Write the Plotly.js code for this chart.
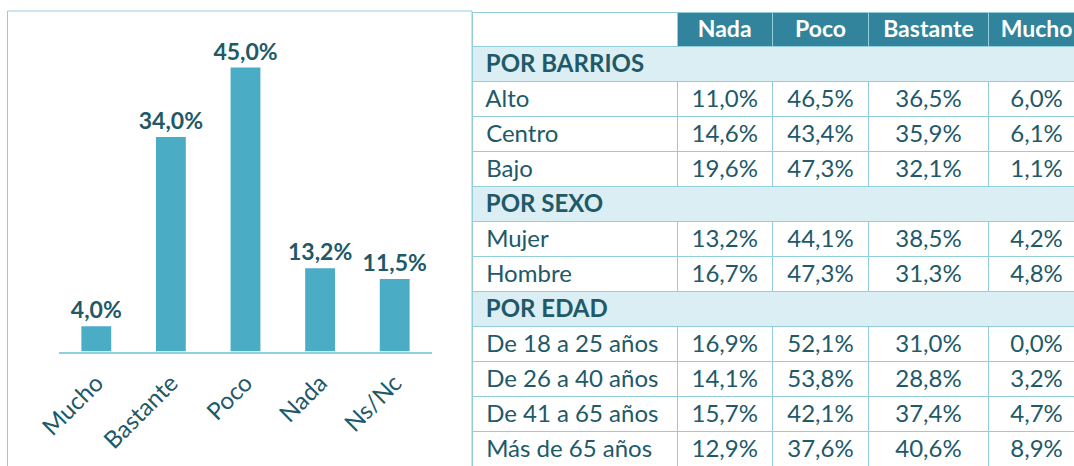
<!DOCTYPE html>
<html>
<head>
<meta charset="utf-8">
<script src="https://cdn.plot.ly/plotly-3.0.1.min.js"></script>
<style>
  html, body { margin: 0; padding: 0; overflow: hidden; background: #ffffff; }
  #chart { width: 1090px; height: 480px; }
</style>
</head>
<body>
<div id="chart"></div>
<script>
// ---- Bar chart data ----
const barCategories = ['Mucho', 'Bastante', 'Poco', 'Nada', 'Ns/Nc'];
const barValues = [4.0, 34.0, 45.0, 13.2, 11.5];

// ---- Table data ----
const tableColumns = ['Nada', 'Poco', 'Bastante', 'Mucho'];
const groupTitles = ['POR BARRIOS', 'POR SEXO', 'POR EDAD'];
const rowLabels = ['Alto', 'Centro', 'Bajo', 'Mujer', 'Hombre',
  'De 18 a 25 años', 'De 26 a 40 años', 'De 41 a 65 años', 'Más de 65 años'];
const rowGroup = [0, 0, 0, 1, 1, 2, 2, 2, 2];
const nadaValues = [11.0, 14.6, 19.6, 13.2, 16.7, 16.9, 14.1, 15.7, 12.9];
const pocoValues = [46.5, 43.4, 47.3, 44.1, 47.3, 52.1, 53.8, 42.1, 37.6];
const bastanteValues = [36.5, 35.9, 32.1, 38.5, 31.3, 31.0, 28.8, 37.4, 40.6];
const muchoValues = [6.0, 6.1, 1.1, 4.2, 4.8, 0.0, 3.2, 4.7, 8.9];

// ---- Styling ----
const W = 1090, H = 480;
const DARK = '#215968';
const BAR = '#4bacc6';
const HEAD = '#31849b';
const SECTION = '#daeef3';
const BORDER = '#92cddc';
const NONE = 'rgba(0,0,0,0)';
const FONT = 'Lato, "Open Sans", sans-serif';

const fmt = v => v.toFixed(1).replace('.', ',') + '%';
// keep multi-word labels on a single line (no table wrapping)
const keepTogether = s => s.replace(/ /g, '\u00a0');

// Build table rows (group title rows + data rows)
const valueCols = [nadaValues, pocoValues, bastanteValues, muchoValues];
const col0 = [], cols = [[], [], [], []], sectionText = [], isSection = [];
let lastGroup = -1;
rowLabels.forEach((lab, i) => {
  if (rowGroup[i] !== lastGroup) {
    lastGroup = rowGroup[i];
    col0.push('');
    cols.forEach(c => c.push(''));
    sectionText.push(keepTogether(groupTitles[lastGroup]));
    isSection.push(true);
  }
  col0.push(keepTogether(lab));
  cols.forEach((c, j) => c.push(fmt(valueCols[j][i])));
  sectionText.push('');
  isSection.push(false);
});
const nCols = 5;
const fillCells = [], lineColorCells = [];
for (let j = 0; j < nCols; j++) {
  fillCells.push(isSection.map(s => s ? SECTION : '#ffffff'));
  lineColorCells.push(isSection.map(s => s ? SECTION : BORDER));
}

const px = x => x / W;
const py = y => (H - y) / H;
const tableDomain = { x: [px(472), px(1085.3)], y: [0, py(12)] };

const barTrace = {
  type: 'bar',
  x: barCategories,
  y: barValues,
  width: 0.4,
  marker: { color: BAR, line: { width: 0 } },
  text: barValues.map(fmt),
  textposition: 'outside',
  constraintext: 'none',
  cliponaxis: false,
  textfont: { family: FONT, size: 23, color: DARK, weight: 'bold' },
  hoverinfo: 'skip',
  xaxis: 'x', yaxis: 'y'
};

const tableTrace = {
  type: 'table',
  domain: tableDomain,
  columnwidth: [205.3, 95, 96.7, 119.3, 97],
  header: {
    values: [''].concat(tableColumns),
    height: 34,
    align: 'center',
    fill: { color: ['#ffffff', HEAD, HEAD, HEAD, HEAD] },
    line: { color: BORDER, width: 1 },
    font: { family: FONT, size: 23, color: '#ffffff', weight: 'bold' }
  },
  cells: {
    values: [col0].concat(cols),
    height: 35,
    align: ['left', 'center', 'center', 'center', 'center'],
    prefix: ['\u00a0', '', '', '', ''],
    fill: { color: fillCells },
    line: { color: lineColorCells, width: 1 },
    font: { family: FONT, size: 24, color: DARK }
  }
};

// Full-width group title rows, drawn over the main table
const sectionTrace = {
  type: 'table',
  domain: tableDomain,
  columnwidth: [1],
  header: {
    values: [''],
    height: 34,
    fill: { color: NONE },
    line: { color: NONE, width: 0 },
    font: { family: FONT, size: 23, color: NONE }
  },
  cells: {
    values: [sectionText],
    height: 35,
    align: 'left',
    prefix: '\u00a0',
    fill: { color: [isSection.map(s => s ? SECTION : NONE)] },
    line: { color: [isSection.map(s => s ? BORDER : NONE)],
            width: [isSection.map(s => s ? 1 : 0)] },
    font: { family: FONT, size: 24, color: DARK, weight: 'bold' }
  }
};

const layout = {
  width: W, height: H,
  margin: { l: 0, r: 0, t: 0, b: 0 },
  paper_bgcolor: '#ffffff',
  plot_bgcolor: '#ffffff',
  showlegend: false,
  xaxis: {
    domain: [px(59), px(432)],
    range: [-0.5, 4.5],
    showline: true, linecolor: '#8fcfe0', linewidth: 2,
    showgrid: false, zeroline: false, ticks: '',
    tickangle: -45,
    ticklabelstandoff: 6,
    tickfont: { family: FONT, size: 24, color: DARK }
  },
  yaxis: {
    domain: [py(351.5), py(29.7)],
    range: [0, 51],
    visible: false, showgrid: false, zeroline: false
  },
  shapes: [
    { type: 'rect', xref: 'paper', yref: 'paper',
      x0: px(7.5), x1: px(472), y0: 0, y1: py(11),
      line: { color: BORDER, width: 1 }, fillcolor: NONE, layer: 'above' }
  ]
};

Plotly.newPlot('chart', [barTrace, tableTrace, sectionTrace], layout, { displayModeBar: false, staticPlot: true });
</script>
</body>
</html>
